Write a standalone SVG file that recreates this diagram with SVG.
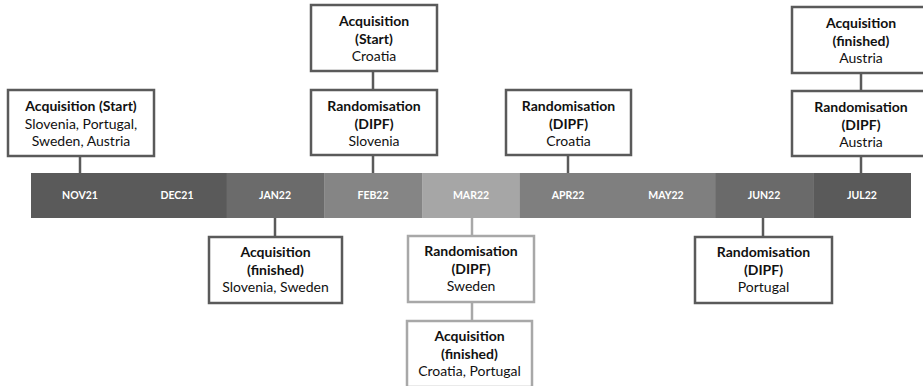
<svg xmlns="http://www.w3.org/2000/svg" width="923" height="386" viewBox="0 0 923 386">
<style>
.box{fill:#fff;stroke:#5a5a5a;stroke-width:2.5}
.lbox{fill:#fff;stroke:#a8a8a8;stroke-width:2.5}
.con{stroke:#5a5a5a;stroke-width:2.5;fill:none}
.lcon{stroke:#a8a8a8;stroke-width:2.5;fill:none}
text{font-family:Lato,"Open Sans","Liberation Sans",sans-serif;font-size:14px;fill:#111;text-anchor:middle}
.b{font-weight:bold}
.m{font-weight:bold;font-size:10.5px;fill:#fff}
</style>
<rect width="923" height="386" fill="#fff"/>
<g id="timeline">
<rect x="31" y="173" width="196" height="45" fill="#5a5a5a"/>
<rect x="226.6" y="173" width="98" height="45" fill="#6b6b6b"/>
<rect x="324.3" y="173" width="98" height="45" fill="#858585"/>
<rect x="422.1" y="173" width="98" height="45" fill="#a6a6a6"/>
<rect x="519.9" y="173" width="196" height="45" fill="#7f7f7f"/>
<rect x="715.4" y="173" width="98" height="45" fill="#6a6a6a"/>
<rect x="813.2" y="173" width="97.8" height="45" fill="#5a5a5a"/>
<text class="m" x="80" y="199">NOV21</text>
<text class="m" x="177" y="199">DEC21</text>
<text class="m" x="275" y="199">JAN22</text>
<text class="m" x="373" y="199">FEB22</text>
<text class="m" x="471" y="199">MAR22</text>
<text class="m" x="568" y="199">APR22</text>
<text class="m" x="666" y="199">MAY22</text>
<text class="m" x="764" y="199">JUN22</text>
<text class="m" x="862" y="199">JUL22</text>
</g>
<g id="connectors">
<line class="con" x1="80" y1="156" x2="80" y2="173"/>
<line class="con" x1="373" y1="71" x2="373" y2="90"/>
<line class="con" x1="373" y1="155" x2="373" y2="173"/>
<line class="con" x1="568" y1="155" x2="568" y2="173"/>
<line class="con" x1="861" y1="73" x2="861" y2="91"/>
<line class="con" x1="861" y1="156" x2="861" y2="173"/>
<line class="con" x1="275" y1="218" x2="275" y2="237"/>
<line class="lcon" x1="472" y1="218" x2="472" y2="236"/>
<line class="lcon" x1="472" y1="302" x2="472" y2="321"/>
<line class="con" x1="763" y1="218" x2="763" y2="237"/>
</g>
<g id="n1">
<rect class="box" x="8" y="90" width="146" height="66"/>
<text class="b" x="81" y="111">Acquisition (Start)</text>
<text x="81" y="128.5">Slovenia, Portugal,</text>
<text x="81" y="146">Sweden, Austria</text>
</g>
<g id="n2">
<rect class="box" x="311" y="5" width="126" height="66"/>
<text class="b" x="374" y="26">Acquisition</text>
<text class="b" x="374" y="43.5">(Start)</text>
<text x="374" y="61">Croatia</text>
</g>
<g id="n3">
<rect class="box" x="311" y="90" width="126" height="65"/>
<text class="b" x="374" y="111">Randomisation</text>
<text class="b" x="374" y="128.5">(DIPF)</text>
<text x="374" y="146">Slovenia</text>
</g>
<g id="n4">
<rect class="box" x="506" y="90" width="125" height="65"/>
<text class="b" x="568.5" y="111">Randomisation</text>
<text class="b" x="568.5" y="128.5">(DIPF)</text>
<text x="568.5" y="146">Croatia</text>
</g>
<g id="n5">
<rect class="box" x="792" y="7" width="140" height="66"/>
<text class="b" x="861" y="28">Acquisition</text>
<text class="b" x="861" y="45.5">(finished)</text>
<text x="861" y="63">Austria</text>
</g>
<g id="n6">
<rect class="box" x="792" y="91" width="140" height="65"/>
<text class="b" x="861" y="112">Randomisation</text>
<text class="b" x="861" y="129.5">(DIPF)</text>
<text x="861" y="147">Austria</text>
</g>
<g id="n7">
<rect class="box" x="209" y="237" width="133" height="66"/>
<text class="b" x="275.5" y="257">Acquisition</text>
<text class="b" x="275.5" y="274.5">(finished)</text>
<text x="275.5" y="292">Slovenia, Sweden</text>
</g>
<g id="n8">
<rect class="lbox" x="408" y="236" width="126" height="66"/>
<text class="b" x="471" y="256">Randomisation</text>
<text class="b" x="471" y="273.5">(DIPF)</text>
<text x="471" y="291">Sweden</text>
</g>
<g id="n9">
<rect class="lbox" x="407" y="321" width="125" height="66"/>
<text class="b" x="469.5" y="341">Acquisition</text>
<text class="b" x="469.5" y="358.5">(finished)</text>
<text x="469.5" y="376">Croatia, Portugal</text>
</g>
<g id="n10">
<rect class="box" x="695" y="237" width="137" height="66"/>
<text class="b" x="763.5" y="257">Randomisation</text>
<text class="b" x="763.5" y="274.5">(DIPF)</text>
<text x="763.5" y="292">Portugal</text>
</g>
</svg>
